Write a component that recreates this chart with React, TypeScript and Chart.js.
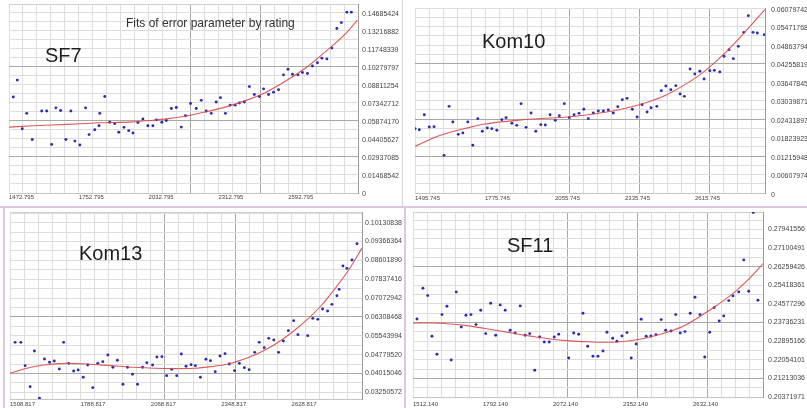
import React, { useEffect, useRef } from 'react';
import { Chart, registerables } from 'chart.js';

Chart.register(...registerables);

const FONT = '"Liberation Sans", Arial, Helvetica, sans-serif';

// ---------- SF7 ----------
const sf7Rating = [1490,1506,1526,1544,1566,1604,1624,1644,1661,1680,1701,1721,1737,1757,1780,1794,1817,1834,1837,1857,1877,1897,1913,1934,1953,1970,1990,2010,2030,2050,2064,2086,2104,2124,2144,2164,2181,2201,2224,2244,2264,2284,2304,2321,2341,2360,2380,2397,2417,2437,2457,2477,2494,2514,2534,2554,2574,2592,2610,2632,2650,2670,2690,2710,2728,2748,2768,2788,2806,2828,2846];
const sf7Error = [0.0782,0.0920,0.0524,0.0649,0.0436,0.0668,0.0668,0.0396,0.0694,0.0673,0.0436,0.0668,0.0423,0.0391,0.0694,0.0476,0.0516,0.0548,0.0649,0.0787,0.0577,0.0567,0.0495,0.0535,0.0508,0.0489,0.0575,0.0604,0.0548,0.0548,0.0596,0.0577,0.0591,0.0689,0.0697,0.0537,0.0630,0.0729,0.0689,0.0755,0.0668,0.0649,0.0742,0.0777,0.0649,0.0716,0.0716,0.0734,0.0742,0.0867,0.0803,0.0787,0.0849,0.0803,0.0822,0.0841,0.0963,0.1008,0.0968,0.0963,0.0982,0.0974,0.1035,0.1061,0.1099,0.1093,0.1181,0.1341,0.1389,0.1474,0.1474];
const sf7FitRating = [1473,1570,1704,1837,1970,2037,2104,2184,2264,2344,2424,2504,2584,2664,2744,2824,2870];
const sf7FitError = [0.0537,0.0548,0.0559,0.0572,0.0580,0.0591,0.0604,0.0628,0.0662,0.0702,0.0755,0.0822,0.0915,0.1021,0.1154,0.1301,0.1407];
const sf7XTicks = [1472.795,1752.795,2032.795,2312.795,2592.795];
const sf7YTicks = [0,0.01468542,0.02937085,0.04405627,0.05874170,0.07342712,0.08811254,0.10279797,0.11748339,0.13216882,0.14685424];

// ---------- Kom10 ----------
const kom10Rating = [1496,1513,1533,1553,1572,1612,1632,1647,1669,1687,1707,1727,1747,1765,1785,1803,1823,1843,1860,1883,1903,1920,1940,1960,1979,1999,2017,2036,2057,2073,2093,2113,2132,2152,2171,2189,2209,2229,2249,2269,2289,2307,2325,2344,2365,2384,2404,2424,2440,2463,2481,2499,2519,2539,2556,2573,2596,2615,2635,2652,2675,2693,2715,2732,2752,2769,2789,2811,2829,2848,2865,2893];
const kom10Error = [0.02114,0.02081,0.02574,0.02169,0.02180,0.01238,0.02848,0.02333,0.01928,0.01972,0.02333,0.01567,0.02443,0.02027,0.02136,0.02114,0.02060,0.02410,0.02476,0.02290,0.02224,0.02936,0.02158,0.02629,0.02027,0.02246,0.02235,0.02574,0.02388,0.02542,0.02936,0.02476,0.02574,0.02618,0.02750,0.02443,0.02629,0.02695,0.02695,0.02728,0.02629,0.02837,0.03067,0.03111,0.02750,0.02498,0.02903,0.02662,0.02804,0.02848,0.03363,0.03517,0.03396,0.03528,0.03254,0.03177,0.04075,0.03911,0.03999,0.03747,0.04020,0.04031,0.03977,0.04492,0.04711,0.04415,0.04820,0.05280,0.05828,0.05280,0.05258,0.05204];
const kom10FitRating = [1496,1569,1636,1703,1769,1836,1903,1969,2036,2103,2169,2236,2303,2369,2436,2503,2569,2636,2703,2769,2836,2895.7];
const kom10FitError = [0.01534,0.01808,0.01994,0.02136,0.02257,0.02333,0.02388,0.02432,0.02465,0.02498,0.02553,0.02629,0.02717,0.02848,0.03013,0.03232,0.03528,0.03889,0.04349,0.04875,0.05478,0.06025];
const kom10XTicks = [1495.745,1775.745,2055.745,2335.745,2615.745];
const kom10YTicks = [0,0.00607974,0.01215948,0.01823923,0.02431897,0.03039871,0.03647845,0.04255819,0.04863794,0.05471768,0.06079742];

// ---------- Kom13 ----------
const kom13Rating = [1529,1552,1569,1589,1606,1626,1646,1666,1685,1705,1722,1742,1762,1780,1800,1818,1838,1858,1878,1898,1918,1936,1958,1976,1996,2016,2036,2053,2076,2093,2113,2132,2152,2172,2190,2209,2229,2246,2266,2288,2306,2325,2344,2364,2381,2402,2421,2441,2460,2482,2500,2520,2538,2558,2577,2596,2616,2637,2654,2693,2713,2733,2752,2772,2789,2809,2818,2833,2849,2869,2889];
const kom13Error = [0.05278,0.05278,0.04332,0.03480,0.04927,0.03007,0.04602,0.04467,0.04521,0.04197,0.05278,0.04426,0.04116,0.04156,0.03859,0.04359,0.03440,0.04426,0.04494,0.04764,0.04264,0.04548,0.03575,0.04264,0.03980,0.03575,0.04264,0.04453,0.04359,0.04683,0.04697,0.03926,0.04183,0.03926,0.04805,0.04305,0.04372,0.04332,0.03859,0.04589,0.04535,0.04089,0.04724,0.04818,0.04399,0.04129,0.04426,0.04251,0.04170,0.04872,0.05278,0.05062,0.05440,0.05373,0.04872,0.05332,0.05751,0.06157,0.05589,0.05548,0.06251,0.06211,0.06630,0.06549,0.06819,0.07170,0.07427,0.08373,0.08279,0.08616,0.09279];
const kom13FitRating = [1509,1576,1642,1736,1816,1909,2002,2082,2162,2242,2309,2376,2429,2482,2536,2589,2642,2696,2749,2802,2856,2908.8];
const kom13FitError = [0.04021,0.04224,0.04359,0.04426,0.04399,0.04332,0.04264,0.04224,0.04210,0.04224,0.04291,0.04399,0.04562,0.04764,0.05035,0.05373,0.05778,0.06251,0.06792,0.07468,0.08211,0.09100];
const kom13XTicks = [1508.817,1788.817,2068.817,2348.817,2628.817];
const kom13YTicks = [0.03250572,0.04015046,0.04779520,0.05543994,0.06308468,0.07072942,0.07837416,0.08601890,0.09366364,0.10130838];

// ---------- SF11 ----------
const sf11Rating = [1528,1552,1571,1588,1608,1628,1648,1665,1685,1705,1724,1744,1764,1783,1803,1823,1843,1861,1881,1901,1921,1941,1961,1979,1999,2019,2037,2057,2077,2095,2135,2155,2175,2192,2211,2232,2252,2272,2288,2311,2328,2348,2368,2385,2405,2425,2445,2464,2484,2505,2523,2544,2563,2581,2600,2621,2640,2660,2679,2699,2717,2737,2755,2775,2792,2815,2835,2855,2873,2892];
const sf11Error = [0.23899,0.25286,0.24954,0.23115,0.22301,0.24095,0.24472,0.22045,0.25120,0.23537,0.24065,0.24095,0.23643,0.24291,0.23236,0.24608,0.23161,0.24532,0.24291,0.23387,0.23266,0.24487,0.23161,0.23236,0.21578,0.23085,0.22859,0.22859,0.23085,0.23206,0.22136,0.23266,0.23206,0.24155,0.22663,0.22211,0.22211,0.22452,0.23296,0.23025,0.22889,0.23130,0.23281,0.22136,0.22769,0.23884,0.23115,0.23130,0.23191,0.23869,0.23387,0.23356,0.24095,0.23266,0.23326,0.24155,0.24879,0.24095,0.22181,0.23296,0.24412,0.23809,0.24035,0.24728,0.24939,0.25120,0.26567,0.25150,0.28707,0.24743];
const sf11FitRating = [1512,1595,1661,1728,1795,1861,1928,1995,2061,2128,2195,2261,2328,2395,2461,2528,2595,2661,2728,2795,2861,2912];
const sf11FitError = [0.23718,0.23718,0.23673,0.23598,0.23477,0.23356,0.23221,0.23100,0.22995,0.22919,0.22874,0.22844,0.22859,0.22934,0.23085,0.23296,0.23583,0.24020,0.24517,0.25075,0.25768,0.26401];
const sf11XTicks = [1512.14,1792.14,2072.14,2352.14,2632.14];
const sf11YTicks = [0.20371971,0.21213036,0.22054101,0.22895166,0.23736231,0.24577296,0.25418361,0.26259426,0.27100491,0.27941556];

type PanelCfg = {
  name: string;
  left: number; top: number; width: number; height: number;
  padL: number; padT: number; axisW: number; axisH: number;
  rating: number[]; err: number[]; fitR: number[]; fitE: number[];
  xTicks: number[]; yTicks: number[];
  xMax: number; yMin: number; yMax: number;
  darkX: number[]; darkY: number[];
  yLabelOffset: number; yLabelPad: number; xLabelPad: number;
};

const panels: PanelCfg[] = [
  { name: 'SF7', left: 0, top: 0, width: 403, height: 206, padL: 9, padT: 0, axisW: 45, axisH: 13,
    rating: sf7Rating, err: sf7Error, fitR: sf7FitRating, fitE: sf7FitError, xTicks: sf7XTicks, yTicks: sf7YTicks,
    xMax: 2872.795, yMin: 0, yMax: 0.15404, darkX: [13, 18], darkY: [4, 8, 14], yLabelOffset: 1, yLabelPad: 4, xLabelPad: 1 },
  { name: 'Kom10', left: 403, top: 0, width: 404, height: 206, padL: 12, padT: 8, axisW: 42, axisH: 13,
    rating: kom10Rating, err: kom10Error, fitR: kom10FitRating, fitE: kom10FitError, xTicks: kom10XTicks, yTicks: kom10YTicks,
    xMax: 2895.745, yMin: 0, yMax: 0.06079742, darkX: [11, 16, 21], darkY: [4, 8, 14], yLabelOffset: 2, yLabelPad: 6, xLabelPad: 2 },
  { name: 'Kom13', left: 0, top: 207, width: 404, height: 201, padL: 10, padT: 5, axisW: 42, axisH: 9,
    rating: kom13Rating, err: kom13Error, fitR: kom13FitRating, fitE: kom13FitError, xTicks: kom13XTicks, yTicks: kom13YTicks,
    xMax: 2908.817, yMin: 0.02979, yMax: 0.10565, darkX: [11, 16], darkY: [2, 8], yLabelOffset: 0, yLabelPad: 3, xLabelPad: 2 },
  { name: 'SF11', left: 404, top: 207, width: 403, height: 201, padL: 9, padT: 5, axisW: 44, axisH: 11,
    rating: sf11Rating, err: sf11Error, fitR: sf11FitRating, fitE: sf11FitError, xTicks: sf11XTicks, yTicks: sf11YTicks,
    xMax: 2912.14, yMin: 0.20372, yMax: 0.2873, darkX: [11, 16, 21], darkY: [2, 8, 14], yLabelOffset: 0, yLabelPad: 5, xLabelPad: 4 },
];

const MINOR = '#dddddd';
const MAJOR = '#a8a8a8';
const EDGE = '#cfcfcf';

function Panel({ cfg }: { cfg: PanelCfg }) {
  const ref = useRef<HTMLCanvasElement | null>(null);
  useEffect(() => {
    if (!ref.current) return;
    const xStep = cfg.xTicks[1] - cfg.xTicks[0];
    const xMinor = xStep / 5;
    const x0 = cfg.xTicks[0];
    const yStep = cfg.yTicks[1] - cfg.yTicks[0];
    const yHalf = yStep / 2;
    const y0 = cfg.yTicks[0];
    const xIdx = (v: number) => (v - x0) / xMinor;
    const yIdx = (v: number) => (v - y0) / yHalf;
    const isInt = (f: number) => Math.abs(f - Math.round(f)) < 1e-3;
    const yEps = yHalf * 1e-3;
    const xEps = xMinor * 1e-3;

    const chart = new Chart(ref.current, {
      type: 'scatter',
      data: {
        datasets: [
          {
            data: cfg.fitR.map((x, i) => ({ x, y: cfg.fitE[i] })),
            showLine: true,
            borderColor: 'rgba(215,72,72,0.9)',
            borderWidth: 1.1,
            pointRadius: 0,
            cubicInterpolationMode: 'monotone',
            order: 0,
          } as any,
          {
            data: cfg.rating.map((x, i) => ({ x, y: cfg.err[i] })),
            showLine: false,
            pointRadius: 1.45,
            pointStyle: 'circle',
            backgroundColor: '#2a2ab4',
            borderWidth: 0,
            order: 1,
          } as any,
        ],
      },
      options: {
        responsive: false,
        animation: false,
        events: [],
        layout: { padding: { left: cfg.padL, top: cfg.padT, right: 0, bottom: 0 } },
        plugins: { legend: { display: false }, tooltip: { enabled: false }, title: { display: false } },
        scales: {
          x: {
            type: 'linear',
            position: 'bottom',
            min: x0,
            max: cfg.xMax,
            afterBuildTicks: (axis: any) => {
              const t: { value: number }[] = [];
              for (let i = 0; x0 + i * xMinor <= cfg.xMax + xEps; i++) t.push({ value: x0 + i * xMinor });
              if (t[t.length - 1].value < cfg.xMax - xEps) t.push({ value: cfg.xMax });
              axis.ticks = t;
            },
            afterFit: (axis: any) => {
              axis.height = cfg.axisH;
              axis.paddingLeft = 0; axis.paddingRight = 0; axis.paddingTop = 0; axis.paddingBottom = 0;
            },
            ticks: {
              autoSkip: false, maxRotation: 0, minRotation: 0, align: 'start',
              padding: cfg.xLabelPad, color: '#444', font: { family: FONT, size: 6 },
              callback: (v: any) => {
                const k = cfg.xTicks.findIndex((t) => Math.abs(t - Number(v)) < xMinor / 100);
                return k >= 0 ? cfg.xTicks[k].toFixed(3) : '';
              },
            },
            grid: {
              drawTicks: false,
              lineWidth: 1,
              color: (ctx: any) => {
                const v = ctx.tick ? ctx.tick.value : NaN;
                const f = xIdx(v);
                if (!isInt(f)) return EDGE;
                return cfg.darkX.includes(Math.round(f)) ? MAJOR : MINOR;
              },
            },
            border: { display: true, color: '#c4c4c4', width: 1 },
          } as any,
          y: {
            type: 'linear',
            position: 'right',
            min: cfg.yMin,
            max: cfg.yMax,
            afterBuildTicks: (axis: any) => {
              const t: { value: number }[] = [];
              const j0 = Math.ceil(yIdx(cfg.yMin) - 1e-3);
              const j1 = Math.floor(yIdx(cfg.yMax) + 1e-3);
              if (y0 + j0 * yHalf > cfg.yMin + yEps) t.push({ value: cfg.yMin });
              for (let j = j0; j <= j1; j++) t.push({ value: y0 + j * yHalf });
              if (y0 + j1 * yHalf < cfg.yMax - yEps) t.push({ value: cfg.yMax });
              axis.ticks = t;
            },
            afterFit: (axis: any) => {
              axis.width = cfg.axisW;
              axis.paddingLeft = 0; axis.paddingRight = 0; axis.paddingTop = 0; axis.paddingBottom = 0;
            },
            ticks: {
              autoSkip: false, padding: cfg.yLabelPad, labelOffset: cfg.yLabelOffset,
              color: '#444', font: { family: FONT, size: 7 },
              callback: (v: any) => {
                const f = yIdx(Number(v));
                if (!isInt(f)) return '';
                const j = Math.round(f);
                if (j % 2 !== 0) return '';
                const k = j / 2;
                if (k < 0 || k >= cfg.yTicks.length) return '';
                const val = cfg.yTicks[k];
                return val === 0 ? '0' : val.toFixed(8);
              },
            },
            grid: {
              drawTicks: false,
              lineWidth: 1,
              color: (ctx: any) => {
                const v = ctx.tick ? ctx.tick.value : NaN;
                const f = yIdx(v);
                if (!isInt(f)) return EDGE;
                return cfg.darkY.includes(Math.round(f)) ? MAJOR : MINOR;
              },
            },
            border: { display: true, color: '#9a9a9a', width: 1 },
          } as any,
        },
      },
    } as any);
    return () => chart.destroy();
  }, [cfg]);

  return (
    <canvas
      ref={ref}
      width={cfg.width}
      height={cfg.height}
      style={{ position: 'absolute', left: cfg.left, top: cfg.top, width: cfg.width, height: cfg.height }}
    />
  );
}

const labelStyle: React.CSSProperties = {
  position: 'absolute',
  fontFamily: FONT,
  fontSize: 20,
  lineHeight: '20px',
  color: '#1e1e1e',
  whiteSpace: 'nowrap',
};

export default function App() {
  return (
    <div style={{ position: 'absolute', left: 0, top: 0, width: 807, height: 408, overflow: 'hidden', background: '#ffffff' }}>
      {panels.map((p) => (
        <Panel key={p.name} cfg={p} />
      ))}
      {/* panel separators */}
      <div style={{ position: 'absolute', left: 402, top: 0, width: 1, height: 206, background: '#d4d4d4' }} />
      <div style={{ position: 'absolute', left: 0, top: 206, width: 807, height: 2, background: '#dcc8e2' }} />
      <div style={{ position: 'absolute', left: 3, top: 206, width: 2, height: 202, background: '#dcc8e2' }} />
      <div style={{ position: 'absolute', left: 404, top: 206, width: 2, height: 202, background: '#dcc8e2' }} />
      {/* texts */}
      <div style={{ position: 'absolute', left: 126, top: 17, fontFamily: FONT, fontSize: 12, lineHeight: '12px', color: '#333', whiteSpace: 'nowrap' }}>
        Fits of error parameter by rating
      </div>
      <div style={{ ...labelStyle, left: 45, top: 45 }}>SF7</div>
      <div style={{ ...labelStyle, left: 482, top: 31 }}>Kom10</div>
      <div style={{ ...labelStyle, left: 79, top: 243 }}>Kom13</div>
      <div style={{ ...labelStyle, left: 507, top: 235 }}>SF11</div>
    </div>
  );
}
